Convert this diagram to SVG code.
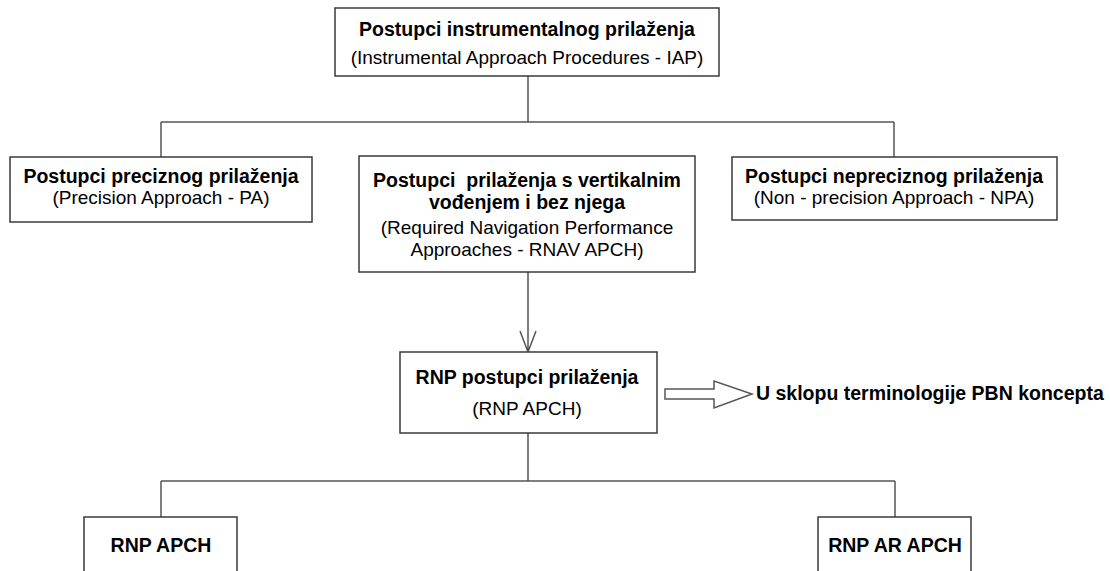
<svg xmlns="http://www.w3.org/2000/svg" width="1110" height="571" viewBox="0 0 1110 571">
<defs>
<style>
.box{fill:#fff;stroke:#3a3a3a;stroke-width:1.5}
.ln{fill:none;stroke:#555;stroke-width:1.5}
.b{font-family:"Liberation Sans",Arial,sans-serif;font-size:19.5px;font-weight:bold;fill:#000;text-anchor:middle;white-space:pre}
.r{font-family:"Liberation Sans",Arial,sans-serif;font-size:19px;fill:#000;text-anchor:middle}
</style>
</defs>
<rect width="1110" height="571" fill="#fff"/>
<g id="connectors">
<path class="ln" d="M528,76 V122 M161,122 H894 M161,122 V157 M894,122 V157"/>
<path class="ln" d="M528,272 V352 M520,331 L528,352 L536,331"/>
<path class="ln" d="M528,433 V481 M161,481 H895 M161,481 V517 M895,481 V517"/>
<path class="ln" d="M665,389 H714 V381 L752,394 L714,408 V399 H665 Z"/>
</g>
<g id="n-iap">
<rect class="box" x="335" y="8" width="384" height="68"/>
<text class="b" x="527" y="36">Postupci instrumentalnog prilaženja</text>
<text class="r" x="527" y="64">(Instrumental Approach Procedures - IAP)</text>
</g>
<g id="n-pa">
<rect class="box" x="10" y="157" width="302" height="65"/>
<text class="b" x="161" y="183">Postupci preciznog prilaženja</text>
<text class="r" x="161" y="204">(Precision Approach - PA)</text>
</g>
<g id="n-rnav">
<rect class="box" x="359" y="156" width="336" height="116"/>
<text class="b" x="527" y="187" xml:space="preserve">Postupci  prilaženja s vertikalnim</text>
<text class="b" x="527" y="209">vođenjem i bez njega</text>
<text class="r" x="527" y="234">(Required Navigation Performance</text>
<text class="r" x="527" y="256">Approaches - RNAV APCH)</text>
</g>
<g id="n-npa">
<rect class="box" x="732" y="157" width="325" height="63"/>
<text class="b" x="894" y="183">Postupci nepreciznog prilaženja</text>
<text class="r" x="894" y="204">(Non - precision Approach - NPA)</text>
</g>
<g id="n-rnp">
<rect class="box" x="400" y="352" width="257" height="81"/>
<text class="b" x="527" y="384">RNP postupci prilaženja</text>
<text class="r" x="527" y="415">(RNP APCH)</text>
</g>
<g id="n-pbn">
<text class="b" x="756" y="400" style="text-anchor:start">U sklopu terminologije PBN koncepta</text>
</g>
<g id="n-rnpapch">
<rect class="box" x="84" y="517" width="153" height="70"/>
<text class="b" x="161" y="552">RNP APCH</text>
</g>
<g id="n-rnpar">
<rect class="box" x="818" y="517" width="153" height="70"/>
<text class="b" x="895" y="552">RNP AR APCH</text>
</g>
</svg>
